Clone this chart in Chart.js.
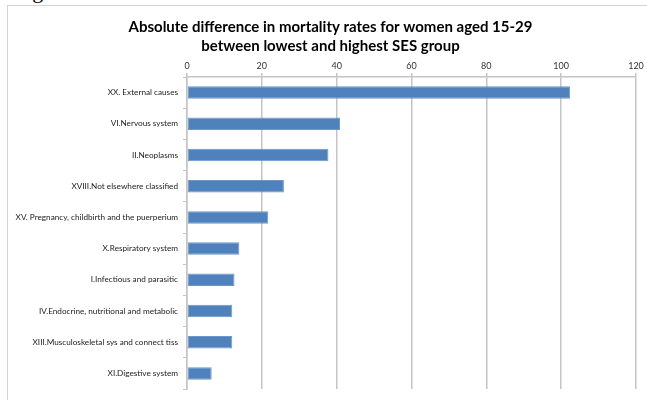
<!DOCTYPE html>
<html>
<head>
<meta charset="utf-8">
<script src="https://cdn.jsdelivr.net/npm/chart.js@4/dist/chart.umd.min.js"></script>
<style>
  html, body { margin: 0; padding: 0; background: #fff; overflow: hidden; }
  body { width: 647px; height: 400px; position: relative; }
  #frame { position: absolute; left: 7px; top: 5px; width: 700px; height: 500px; border: 1px solid #D4D4D4; box-sizing: border-box; }
  #cap { position: absolute; left: 14px; top: -22px; font: 22px "Liberation Serif", serif; color: #000; white-space: nowrap; }
  #wrap { position: absolute; left: 0; top: 0; width: 647px; height: 400px; }
</style>
</head>
<body>
<div id="cap">Figure</div>
<div id="frame"></div>
<div id="wrap"><canvas id="c" width="647" height="400"></canvas></div>
<script>
const categories = [
  "XX. External causes",
  "VI.Nervous system",
  "II.Neoplasms",
  "XVIII.Not elsewhere classified",
  "XV. Pregnancy, childbirth and the puerperium",
  "X.Respiratory system",
  "I.Infectious and parasitic",
  "IV.Endocrine, nutritional and metabolic",
  "XIII.Musculoskeletal sys and connect tiss",
  "XI.Digestive system"
];
const values = [102.4, 40.9, 37.8, 25.9, 21.7, 14.0, 12.7, 12.1, 12.1, 6.6];
const titleLines = [
  "Absolute difference in mortality rates for women aged 15-29",
  "between lowest and highest SES group"
];
const xMin = 0, xMax = 120, xStep = 20;

const titlePlugin = {
  id: 'shiftedTitle',
  afterDraw(chart) {
    const ctx = chart.ctx;
    ctx.save();
    ctx.fillStyle = '#000';
    ctx.font = 'bold 15px Lato';
    ctx.textAlign = 'center';
    ctx.textBaseline = 'middle';
    const cx = chart.width / 2 + 7;
    titleLines.forEach((t, i) => ctx.fillText(t, cx, 27 + i * 19));
    ctx.restore();
  }
};

new Chart(document.getElementById('c'), {
  type: 'bar',
  data: {
    labels: categories,
    datasets: [{
      data: values,
      backgroundColor: '#4F81BD',
      borderColor: '#6E97C8',
      borderWidth: 1,
      borderSkipped: false,
      barPercentage: 0.4,
      categoryPercentage: 1.0
    }]
  },
  plugins: [titlePlugin],
  options: {
    indexAxis: 'y',
    responsive: false,
    animation: false,
    devicePixelRatio: 1,
    layout: { padding: { left: 0, right: 11, top: 54.5, bottom: 11 } },
    plugins: {
      legend: { display: false },
      tooltip: { enabled: false },
      title: { display: false }
    },
    scales: {
      x: {
        position: 'top',
        min: xMin, max: xMax,
        ticks: { stepSize: xStep, color: '#333', font: { family: 'Lato', size: 9 }, padding: 2 },
        grid: { color: '#C4C4C4', lineWidth: 1.5, tickLength: 4, drawTicks: true },
        border: { color: '#C4C4C4', width: 1.5 },
        afterFit: (s) => { s.height = 22.5; }
      },
      y: {
        ticks: { color: '#222', font: { family: 'Lato', size: 8.2 }, padding: 5, autoSkip: false },
        grid: { drawOnChartArea: false, color: '#C4C4C4', lineWidth: 1, tickLength: 4 },
        border: { color: '#C4C4C4', width: 1.5 },
        afterFit: (s) => { s.width = 187; }
      }
    }
  }
});
</script>
</body>
</html>
